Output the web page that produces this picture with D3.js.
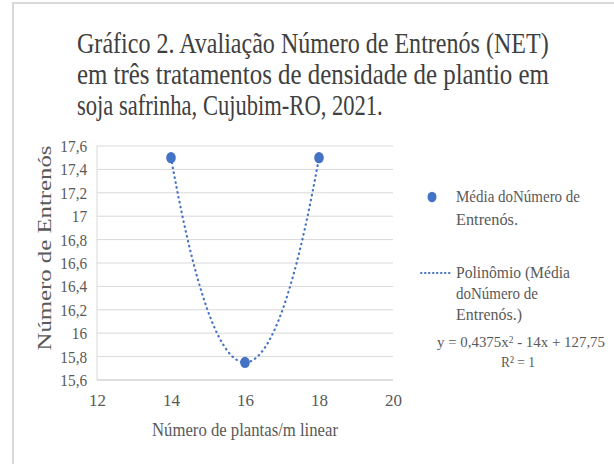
<!DOCTYPE html>
<html>
<head>
<meta charset="utf-8">
<script src="https://cdn.jsdelivr.net/npm/d3@7"></script>
<style>
  body { margin: 0; background: #fff; }
  svg text { font-family: "Liberation Serif", Tinos, "Times New Roman", serif; }
</style>
</head>
<body>
<div id="chart"></div>
<script>
// data
var plantas = [14, 16, 18];
var entrenos = [17.5, 15.75, 17.5];
// trendline coefficients shown on the chart (a*x^2 + b*x + c)
var trendCoef = [0.4375, -14, 127.75];
var xTicks = [12, 14, 16, 18, 20];
var yTicks = [15.6, 15.8, 16, 16.2, 16.4, 16.6, 16.8, 17, 17.2, 17.4, 17.6];
var titleLines = ["Gráfico 2. Avaliação Número de Entrenós (NET)",
                  "em três tratamentos de densidade de plantio em",
                  "soja safrinha, Cujubim-RO, 2021."];

var W = 614, H = 464;
var margin = {top: 146, left: 97},
    width = 393 - 97,
    height = 380 - 146;
var serif = "'Liberation Serif', Tinos, 'Times New Roman', serif";

var svg = d3.select("#chart").append("svg")
    .attr("width", W).attr("height", H)
    .attr("font-family", serif);

// outer frame
svg.append("rect")
    .attr("x", 13).attr("y", 3)
    .attr("width", W + 10).attr("height", H + 10)
    .attr("fill", "none").attr("stroke", "#d9d9d9").attr("stroke-width", 2);

// squeeze a text horizontally so it spans w pixels from x
function squeeze(sel, x0, y0, w) {
  var L = sel.node().getComputedTextLength();
  sel.attr("x", 0).attr("y", 0)
     .attr("transform", "translate(" + x0 + "," + y0 + ") scale(" + (w / L) + ",1)");
}

// title, justified lines
var titleW = [472, 472, 306];
titleLines.forEach(function(t, i) {
  var tx = svg.append("text")
     .attr("font-size", 28.5)
     .attr("fill", "#404040")
     .text(t);
  squeeze(tx, 77, 53 + i * 31, titleW[i]);
});

var g = svg.append("g")
    .attr("transform", "translate(" + margin.left + "," + margin.top + ")");

var x = d3.scaleLinear().domain([12, 20]).range([0, width]);
var y = d3.scaleLinear().domain([15.6, 17.6]).range([height, 0]);
var fmt = function(d) { return d3.format("~g")(d).replace(".", ","); };

// gridlines
g.selectAll(".grid").data(yTicks).enter().append("line")
    .attr("x1", 0).attr("x2", width)
    .attr("y1", function(d) { return y(d); })
    .attr("y2", function(d) { return y(d); })
    .attr("stroke", function(d) { return d === 15.6 ? "#bfbfbf" : "#d9d9d9"; })
    .attr("stroke-width", 1);

g.append("line")
    .attr("x1", 0).attr("x2", 0).attr("y1", 0).attr("y2", height)
    .attr("stroke", "#d9d9d9");

// y axis labels
var yAxis = g.append("g").call(d3.axisLeft(y).tickValues(yTicks).tickFormat(fmt).tickSize(0).tickPadding(11));
yAxis.attr("font-family", serif);
yAxis.select(".domain").remove();
yAxis.selectAll("text").attr("font-size", 17).attr("fill", "#595959")
    .attr("transform", "scale(0.9,1)");

// x axis labels
var xAxis = g.append("g").attr("transform", "translate(0," + height + ")")
    .call(d3.axisBottom(x).tickValues(xTicks).tickFormat(fmt).tickSize(0).tickPadding(14));
xAxis.attr("font-family", serif);
xAxis.select(".domain").remove();
xAxis.selectAll("text").attr("font-size", 17).attr("fill", "#595959");

// axis titles
svg.append("text")
    .attr("transform", "translate(51,248) rotate(-90)")
    .attr("text-anchor", "middle")
    .attr("font-size", 19).attr("fill", "#595959")
    .attr("textLength", 205).attr("lengthAdjust", "spacingAndGlyphs")
    .text("Número de Entrenós");

svg.append("text")
    .attr("x", 245).attr("y", 436)
    .attr("text-anchor", "middle")
    .attr("font-size", 19).attr("fill", "#595959")
    .attr("textLength", 186).attr("lengthAdjust", "spacingAndGlyphs")
    .text("Número de plantas/m linear");

// polynomial trendline from the chart's equation
var trendX = d3.range(plantas[0], plantas[plantas.length - 1] + 0.001, 0.05);
var poly = function(v) { return trendCoef[0] * v * v + trendCoef[1] * v + trendCoef[2]; };
var line = d3.line()
    .x(function(d) { return x(d); })
    .y(function(d) { return y(poly(d)); });

g.append("path")
    .datum(trendX)
    .attr("d", line)
    .attr("fill", "none")
    .attr("stroke", "#4472c4")
    .attr("stroke-width", 2.2)
    .attr("stroke-linecap", "round")
    .attr("stroke-dasharray", "0.5,4.5");

// points
g.selectAll(".dot").data(plantas).enter().append("ellipse")
    .attr("cx", function(d) { return x(d); })
    .attr("cy", function(d, i) { return y(entrenos[i]); })
    .attr("rx", 4.8).attr("ry", 5.6)
    .attr("fill", "#4472c4");

// legend
var lg = svg.append("g");
lg.append("ellipse").attr("cx", 432).attr("cy", 197).attr("rx", 4.5).attr("ry", 5.2).attr("fill", "#4472c4");
var leg1 = ["Média doNúmero de", "Entrenós."];
leg1.forEach(function(t, i) {
  lg.append("text").attr("x", 456).attr("y", 202 + i * 23)
    .attr("font-size", 17).attr("fill", "#595959")
    .attr("textLength", i === 0 ? 124 : 62).attr("lengthAdjust", "spacingAndGlyphs")
    .text(t);
});
lg.append("line").attr("x1", 421).attr("x2", 450).attr("y1", 273).attr("y2", 273)
    .attr("stroke", "#4472c4").attr("stroke-width", 2)
    .attr("stroke-linecap", "round").attr("stroke-dasharray", "0.5,3.5");
var leg2 = ["Polinômio (Média", "doNúmero de", "Entrenós.)"];
var leg2W = [114, 82, 66];
leg2.forEach(function(t, i) {
  lg.append("text").attr("x", 456).attr("y", 278 + i * 21)
    .attr("font-size", 17).attr("fill", "#595959")
    .attr("textLength", leg2W[i]).attr("lengthAdjust", "spacingAndGlyphs")
    .text(t);
});
var eq = lg.append("text").attr("x", 437).attr("y", 347)
    .attr("font-size", 15.5).attr("fill", "#595959")
    .attr("textLength", 168).attr("lengthAdjust", "spacingAndGlyphs");
eq.append("tspan").text("y = " + fmt(trendCoef[0]) + "x");
eq.append("tspan").attr("dy", -4).attr("font-size", 10).text("2");
eq.append("tspan").attr("dy", 4).text(" - " + Math.abs(trendCoef[1]) + "x + " + fmt(trendCoef[2]));
lg.append("text").attr("x", 518).attr("y", 367)
    .attr("text-anchor", "middle")
    .attr("font-size", 15.5).attr("fill", "#595959")
    .attr("textLength", 34).attr("lengthAdjust", "spacingAndGlyphs")
    .text("R² = 1");
</script>
</body>
</html>
